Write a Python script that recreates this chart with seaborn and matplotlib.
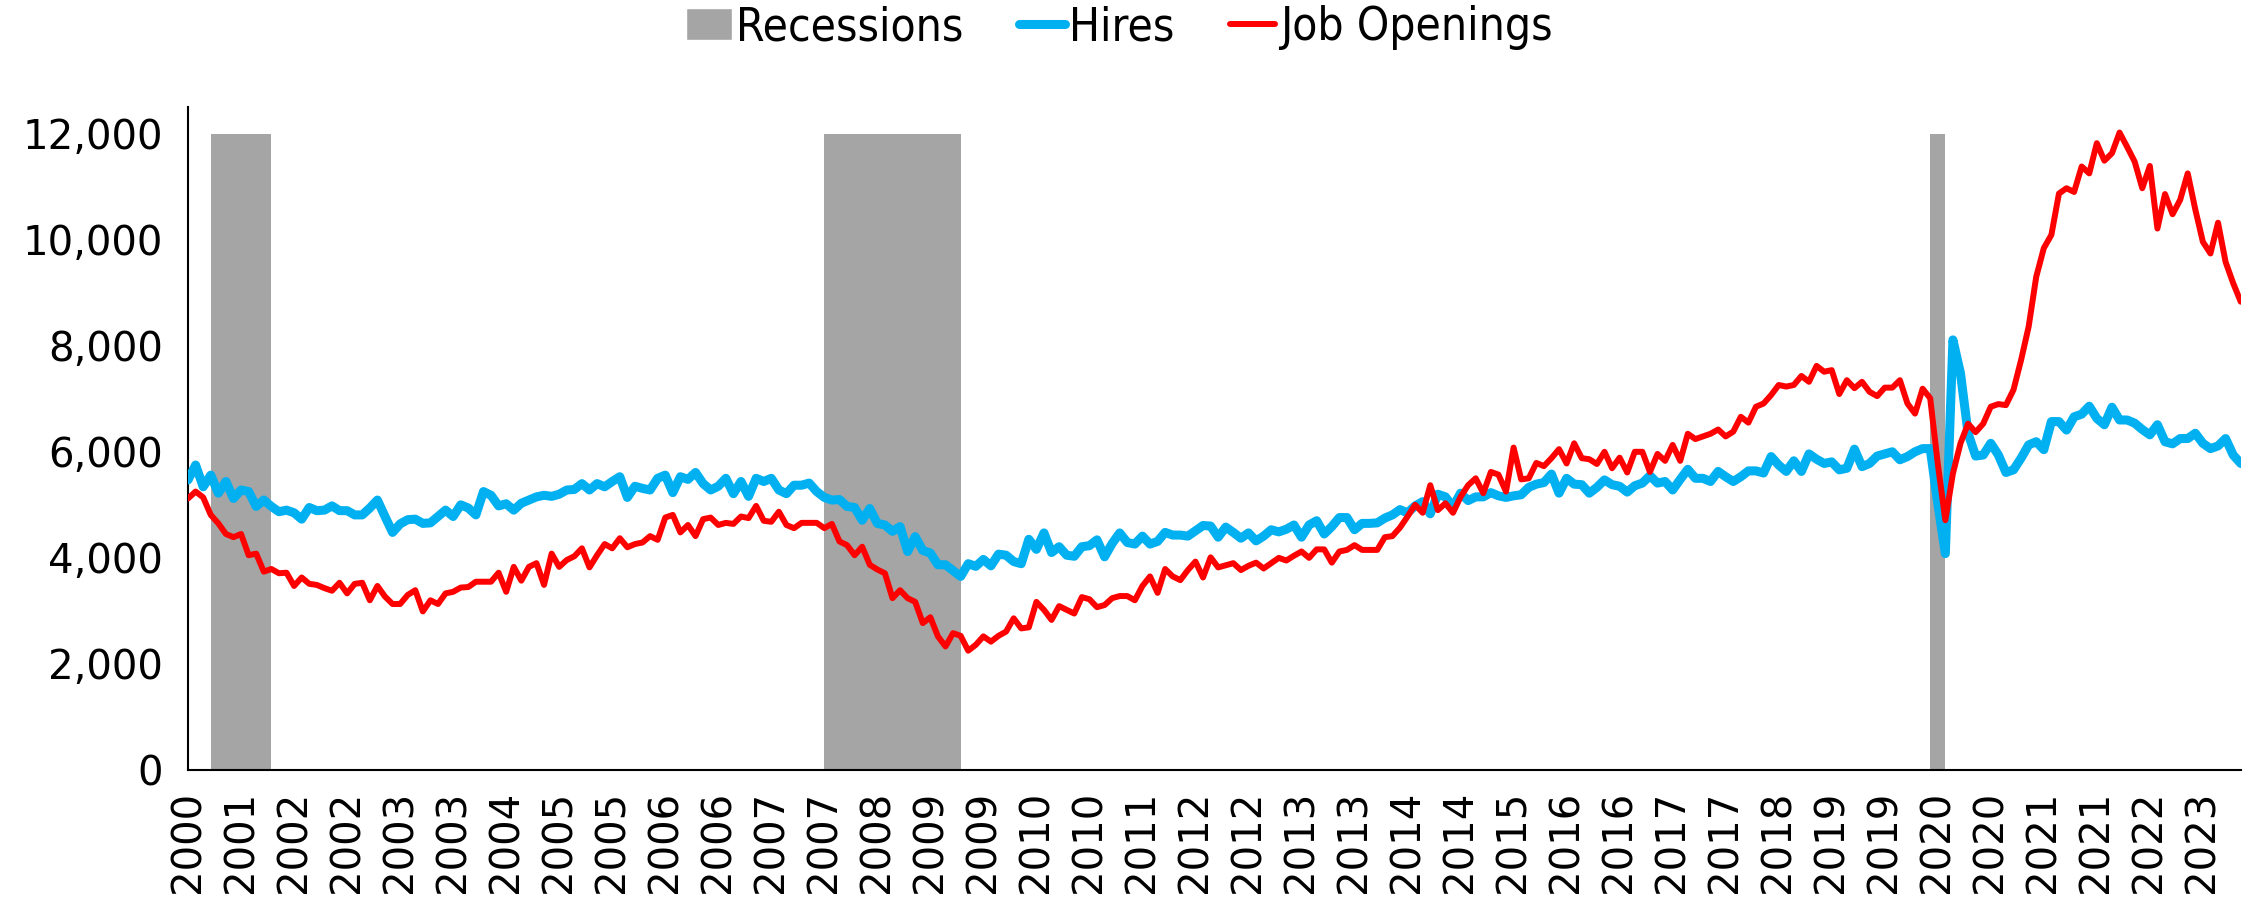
import numpy as np
import pandas as pd
import matplotlib
matplotlib.use("Agg")
import matplotlib.pyplot as plt
from matplotlib.patches import Patch
from matplotlib.lines import Line2D
import seaborn as sns

sns.set_style("white")
plt.rcParams['font.family'] = ['DejaVu Sans']
plt.rcParams['text.color'] = 'black'
plt.rcParams['xtick.color'] = 'black'
plt.rcParams['ytick.color'] = 'black'

# monthly JOLTS series, thousands, Dec 2000 - Jul 2023
start_month = '2000-12-01'

hires = [
    5470, 5750, 5340, 5560, 5220, 5440, 5120, 5280, 5250, 4970,
    5090, 4970, 4870, 4900, 4850, 4730, 4950, 4890, 4900, 4980,
    4890, 4890, 4810, 4810, 4940, 5090, 4780, 4480, 4640, 4720,
    4730, 4650, 4660, 4780, 4900, 4780, 5000, 4940, 4810, 5250,
    5180, 4980, 5020, 4900, 5030, 5090, 5150, 5180, 5160, 5200,
    5280, 5290, 5400, 5280, 5400, 5340, 5440, 5530, 5140, 5350,
    5310, 5280, 5500, 5560, 5230, 5530, 5480, 5610, 5400, 5280,
    5350, 5500, 5210, 5440, 5160, 5500, 5440, 5500, 5280, 5210,
    5370, 5370, 5410, 5250, 5140, 5090, 5100, 4970, 4950, 4710,
    4930, 4650, 4620, 4500, 4590, 4120, 4400, 4140, 4090, 3870,
    3870, 3760, 3650, 3890, 3840, 3970, 3850, 4070, 4050, 3930,
    3890, 4350, 4160, 4470, 4100, 4210, 4050, 4030, 4210, 4230,
    4340, 4020, 4270, 4470, 4290, 4260, 4410, 4260, 4310, 4480,
    4430, 4430, 4410, 4510, 4610, 4600, 4390, 4580, 4480, 4370,
    4470, 4320, 4410, 4530, 4490, 4540, 4620, 4390, 4620, 4700,
    4450, 4590, 4760, 4760, 4530, 4650, 4650, 4660, 4750, 4810,
    4910, 4850, 4980, 5060, 4830, 5200, 5150, 4960, 5220, 5080,
    5150, 5150, 5230, 5170, 5140, 5170, 5190, 5330, 5390, 5420,
    5580, 5220, 5500, 5390, 5380, 5220, 5330, 5470, 5380, 5350,
    5240, 5360, 5410, 5550, 5410, 5440, 5280, 5480, 5670, 5500,
    5500, 5440, 5630, 5530, 5440, 5530, 5640, 5640, 5600, 5910,
    5750, 5630, 5830, 5630, 5960, 5860, 5780, 5810, 5660, 5690,
    6050, 5720, 5780, 5920, 5960, 6000, 5850, 5910, 6000, 6060,
    6060, 5030, 4080, 8110, 7480, 6350, 5920, 5940, 6160, 5940,
    5610, 5660, 5880, 6130, 6190, 6040, 6570, 6570, 6410, 6660,
    6710, 6860, 6630, 6510, 6840, 6600, 6600, 6540, 6420, 6320,
    6510, 6190, 6150, 6250, 6250, 6350, 6160, 6060, 6110, 6250,
    5940, 5780,
]

job_openings = [
    5120, 5250, 5140, 4810, 4650, 4450, 4390, 4450, 4050, 4080,
    3740, 3790, 3710, 3720, 3470, 3630, 3510, 3490, 3430, 3380,
    3530, 3330, 3510, 3530, 3200, 3470, 3270, 3130, 3130, 3300,
    3390, 2990, 3200, 3130, 3330, 3360, 3440, 3450, 3550, 3550,
    3550, 3720, 3360, 3830, 3570, 3830, 3900, 3490, 4080, 3830,
    3960, 4030, 4180, 3820, 4050, 4260, 4180, 4370, 4200, 4260,
    4290, 4410, 4340, 4760, 4810, 4480, 4620, 4410, 4730, 4760,
    4620, 4660, 4640, 4780, 4750, 4980, 4700, 4680, 4870, 4620,
    4560, 4660, 4660, 4660, 4560, 4640, 4310, 4240, 4050, 4210,
    3870, 3780, 3710, 3240, 3390, 3240, 3170, 2770, 2880, 2520,
    2330, 2580, 2530, 2250, 2360, 2520, 2420, 2530, 2610, 2860,
    2670, 2690, 3170, 3020, 2830, 3090, 3020, 2950, 3260, 3220,
    3070, 3110, 3240, 3280, 3280, 3200, 3470, 3650, 3340, 3790,
    3650, 3580, 3770, 3930, 3630, 4010, 3820, 3860, 3900, 3770,
    3850, 3910, 3800, 3900, 4000, 3950, 4040, 4120, 4000, 4160,
    4160, 3910, 4120, 4150, 4240, 4150, 4150, 4150, 4390, 4410,
    4570, 4780, 5000, 4850, 5370, 4900, 5030, 4850, 5150, 5370,
    5500, 5220, 5620, 5570, 5250, 6080, 5480, 5500, 5790, 5730,
    5880, 6050, 5780, 6160, 5880, 5860, 5770, 6000, 5690, 5890,
    5610, 6000, 6000, 5620, 5960, 5830, 6130, 5830, 6340, 6240,
    6290, 6340, 6420, 6290, 6380, 6660, 6550, 6850, 6910, 7070,
    7260, 7230, 7260, 7430, 7320, 7620, 7510, 7540, 7090, 7350,
    7200, 7320, 7130, 7050, 7210, 7210, 7350, 6910, 6720, 7190,
    7010, 5780, 4710, 5590, 6160, 6530, 6370, 6530, 6850, 6900,
    6880, 7170, 7730, 8360, 9300, 9840, 10090, 10870, 10970, 10900,
    11380, 11250, 11820, 11490, 11630, 12020, 11750, 11470, 10970, 11390,
    10210, 10860, 10480, 10750, 11250, 10570, 9960, 9740, 10320, 9580,
    9180, 8830,
]

# NBER peak / trough months
recessions = [('2001-03', '2001-11'), ('2007-12', '2009-06'), ('2020-02', '2020-04')]
shade_top = 12000

y_ticks = [0, 2000, 4000, 6000, 8000, 10000, 12000]
label_every = 7

dates = pd.date_range(start_month, periods=len(hires), freq='MS')
df = pd.DataFrame({'month': np.arange(len(dates)), 'date': dates,
                   'Hires': hires, 'Job Openings': job_openings})

fig = plt.figure(figsize=(22.52, 8.97), dpi=100)
ax = fig.add_axes([0.0835, 0.1416, 0.9115, 0.739])

# recession shading
for s, e in recessions:
    i0 = df.index[df['date'] == pd.Timestamp(s + '-01')][0]
    i1 = df.index[df['date'] == pd.Timestamp(e + '-01')][0]
    ax.fill_between([i0, i1], 0, shade_top, color='#A5A5A5', lw=0, zorder=1)

sns.lineplot(data=df, x='month', y='Hires', color='#00B0F0', lw=6.5, ax=ax, zorder=3)
sns.lineplot(data=df, x='month', y='Job Openings', color='#FF0000', lw=4.3, ax=ax, zorder=4)

ax.set_xlim(0, len(df) - 1)
ax.set_ylim(0, 12500)
ax.set_yticks(y_ticks)
ax.set_yticklabels(['{:,}'.format(v) for v in y_ticks], fontsize=29)

major = df['month'][::label_every]
ax.set_xticks(major)
ax.set_xticklabels(df['date'][::label_every].dt.year.astype(str), rotation=90, fontsize=29)
ax.set_xticks(df['month'], minor=True)
ax.tick_params(axis='x', which='both', direction='out', length=7, width=1.2, color='black', pad=8)
ax.tick_params(axis='y', direction='out', length=8, width=1.2, color='black', pad=10)

ax.set_xlabel('')
ax.set_ylabel('')
for side in ['top', 'right']:
    ax.spines[side].set_visible(False)
for side in ['left', 'bottom']:
    ax.spines[side].set_color('black')
    ax.spines[side].set_linewidth(1.5)

handles = [Patch(facecolor='#A5A5A5', label='Recessions'),
           Line2D([], [], color='#00B0F0', lw=6.5, label='Hires'),
           Line2D([], [], color='#FF0000', lw=4.3, label='Job Openings')]
fig.legend(handles=handles, loc='upper center', bbox_to_anchor=(0.497, 1.04), ncol=3,
           frameon=False, handlelength=1.0, handletextpad=0.1, columnspacing=1.2,
           prop={'family': ['DejaVu Sans'], 'stretch': 'condensed', 'size': 33})

fig.savefig('out.png', dpi=100)
